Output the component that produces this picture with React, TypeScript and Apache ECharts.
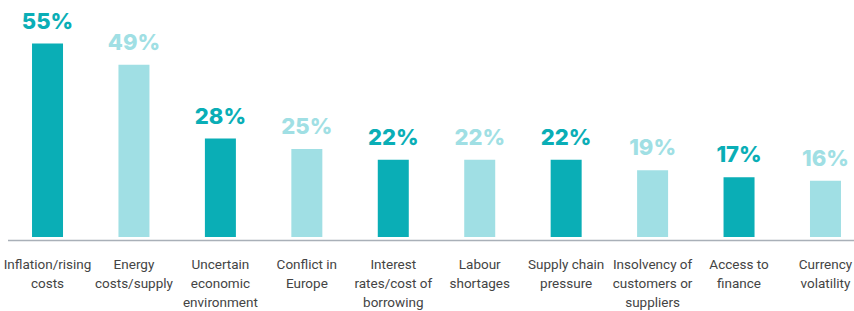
import React, { useEffect, useRef } from "react";
import * as echarts from "echarts";

const categories = [
  "Inflation/rising\ncosts",
  "Energy\ncosts/supply",
  "Uncertain\neconomic\nenvironment",
  "Conflict in\nEurope",
  "Interest\nrates/cost of\nborrowing",
  "Labour\nshortages",
  "Supply chain\npressure",
  "Insolvency of\ncustomers or\nsuppliers",
  "Access to\nfinance",
  "Currency\nvolatility",
];
const values = [55, 49, 28, 25, 22, 22, 22, 19, 17, 16];
const DARK = "#0aaeb6";
const LIGHT = "#a0dfe4";

export default function App() {
  const ref = useRef<HTMLDivElement>(null);
  useEffect(() => {
    if (!ref.current) return;
    const chart = echarts.init(ref.current, undefined, { renderer: "svg" });
    chart.setOption({
      animation: false,
      grid: { left: 4.3, top: 26, width: 864.4, bottom: 71, containLabel: false },
      xAxis: {
        type: "category",
        data: categories,
        axisLine: { show: false },
        axisTick: { show: false },
        axisLabel: {
          interval: 0,
          margin: 17,
          color: "#444",
          fontFamily: "Roboto",
          fontSize: 13.5,
          lineHeight: 19,
        },
      },
      yAxis: { type: "value", min: 0, max: 60, show: false },
      graphic: [
        {
          type: "line",
          shape: { x1: 8, y1: 240.5, x2: 854, y2: 240.5 },
          style: { stroke: "#a9b0b8", lineWidth: 1.5 },
          z: 10,
        },
      ],
      series: [
        {
          type: "bar",
          barWidth: 31,
          data: values.map((v, i) => {
            const c = i % 2 === 0 ? DARK : LIGHT;
            return {
              value: v,
              itemStyle: { color: c },
              label: { color: c },
            };
          }),
          label: {
            show: true,
            position: "top",
            distance: 12,
            formatter: "{c}%",
            fontFamily: "Inter",
            fontWeight: 800,
            fontSize: 22,
          },
        },
      ],
    });
    return () => chart.dispose();
  }, []);
  return (
    <div
      ref={ref}
      style={{ position: "fixed", left: 0, top: 0, width: 870, height: 311, background: "#fff" }}
    />
  );
}
